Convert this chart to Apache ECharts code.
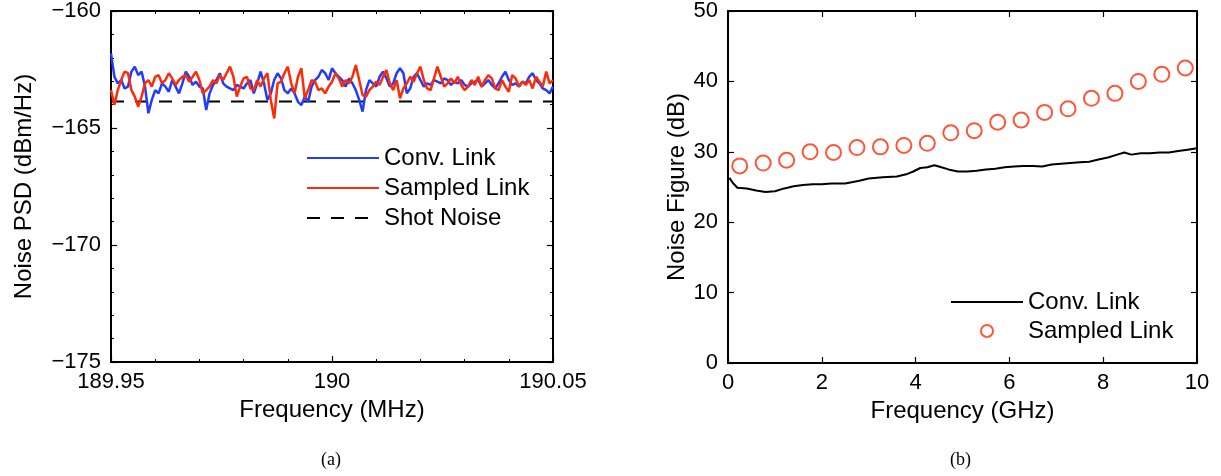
<!DOCTYPE html>
<html>
<head>
<meta charset="utf-8">
<script src="https://cdn.jsdelivr.net/npm/echarts@6/dist/echarts.min.js"></script>
<style>
  html, body { margin: 0; padding: 0; background: #ffffff; }
  #chart { width: 1221px; height: 476px; }
</style>
</head>
<body>
<div id="chart"></div>
<script>
// ---- Panel (a): noise PSD near 190 MHz (dBm/Hz) ----
const psdFreqStart = 189.95;   // MHz
const psdFreqStop = 190.05;    // MHz
const psdConvLink = [
  -161.81, -162.81, -163.09, -162.95, -163.31, -163.23, -162.59, -162.38, -162.74, -162.59,
  -163.23, -164.37, -163.80, -163.38, -163.52, -163.09, -163.23, -163.45, -162.95, -163.23,
  -163.52, -163.09, -162.59, -162.81, -163.16, -163.02, -163.23, -163.31, -164.23, -163.52,
  -163.16, -162.95, -162.66, -163.09, -163.23, -163.31, -163.38, -163.16, -163.23, -163.31,
  -163.09, -162.95, -163.52, -163.09, -162.59, -163.09, -163.80, -163.52, -162.95, -162.66,
  -162.88, -163.38, -163.52, -163.31, -163.52, -163.88, -164.02, -163.66, -163.88, -163.23,
  -162.95, -162.81, -162.52, -162.66, -162.95, -162.45, -162.66, -162.81, -162.95, -163.23,
  -162.88, -163.09, -163.38, -163.80, -164.30, -163.38, -162.95, -163.09, -163.23, -162.81,
  -162.59, -162.88, -163.23, -163.09, -162.66, -162.45, -162.66, -163.52, -163.31, -162.81,
  -162.66, -162.95, -163.23, -163.09, -163.16, -162.95, -163.02, -163.09, -162.88, -162.95,
  -163.16, -163.02, -163.09, -162.95, -163.16, -163.23, -163.09, -163.02, -162.95, -163.23,
  -163.09, -162.95, -163.16, -163.31, -163.09, -162.81, -162.59, -162.95, -163.16, -163.09,
  -163.23, -163.02, -163.09, -162.81, -162.66, -162.95, -163.09, -163.31, -163.38, -163.52,
  -163.23
];
const psdSampledLink = [
  -163.38, -164.02, -163.38, -162.95, -162.59, -162.66, -163.38, -163.66, -164.09, -163.66,
  -163.09, -162.95, -163.23, -162.81, -162.74, -163.09, -162.95, -162.66, -162.88, -163.16,
  -162.95, -162.81, -162.74, -163.02, -162.81, -162.59, -162.95, -163.52, -163.38, -163.23,
  -162.95, -163.09, -162.74, -162.95, -162.66, -162.38, -162.81, -163.66, -163.23, -162.88,
  -162.81, -163.31, -163.38, -162.95, -163.23, -162.88, -162.66, -163.80, -164.59, -163.09,
  -163.02, -162.66, -162.38, -163.09, -163.52, -162.81, -162.45, -163.73, -163.38, -162.95,
  -163.02, -163.38, -163.31, -163.52, -163.23, -163.02, -162.66, -162.88, -163.23, -162.95,
  -163.09, -162.81, -162.31, -162.95, -163.59, -163.66, -163.38, -163.23, -163.02, -163.16,
  -162.81, -162.52, -163.09, -163.38, -162.95, -163.73, -163.31, -163.09, -162.81, -163.02,
  -162.66, -162.38, -162.95, -163.31, -163.38, -162.88, -162.38, -162.81, -163.23, -163.09,
  -162.88, -163.09, -162.81, -163.16, -163.38, -163.23, -162.95, -163.16, -162.81, -163.23,
  -162.95, -162.74, -162.88, -163.31, -163.38, -162.95, -163.23, -163.45, -162.74, -162.88,
  -163.23, -163.02, -163.16, -162.95, -163.31, -162.81, -163.02, -163.23, -162.59, -163.09,
  -162.95
];
const shotNoiseLevel = -163.87;

// ---- Panel (b): noise figure versus frequency ----
const nfConvFreq = [
  0.03, 0.1, 0.2, 0.4, 0.6, 0.8, 1.0, 1.2, 1.4, 1.6, 1.8, 2.0, 2.2, 2.5, 2.8, 3.0, 3.3, 3.6,
  3.8, 3.95, 4.1, 4.25, 4.4, 4.55, 4.7, 4.9, 5.1, 5.3, 5.5, 5.7, 5.9, 6.1, 6.3, 6.5, 6.7,
  6.9, 7.1, 7.3, 7.5, 7.7, 7.9, 8.1, 8.3, 8.45, 8.6, 8.8, 9.0, 9.2, 9.4, 9.6, 9.8, 10.0
];
const nfConvLink = [
  26.3, 25.6, 24.9, 24.8, 24.5, 24.3, 24.4, 24.8, 25.1, 25.3, 25.4, 25.4, 25.5, 25.5, 25.9,
  26.2, 26.4, 26.5, 26.8, 27.2, 27.7, 27.8, 28.1, 27.8, 27.5, 27.2, 27.2, 27.3, 27.5, 27.6,
  27.8, 27.9, 28.0, 28.0, 27.9, 28.2, 28.3, 28.4, 28.5, 28.6, 28.9, 29.2, 29.6, 29.9, 29.6,
  29.8, 29.8, 29.9, 29.9, 30.1, 30.3, 30.5
];
const nfSampledFreq = [
  0.25, 0.75, 1.25, 1.75, 2.25, 2.75, 3.25, 3.75, 4.25, 4.75,
  5.25, 5.75, 6.25, 6.75, 7.25, 7.75, 8.25, 8.75, 9.25, 9.75
];
const nfSampledLink = [
  28.0, 28.4, 28.8, 30.0, 29.9, 30.6, 30.7, 30.9, 31.2, 32.7,
  33.0, 34.2, 34.5, 35.6, 36.1, 37.6, 38.3, 40.0, 41.0, 41.9
];

// ---- build series data ----
const psdStep = (psdFreqStop - psdFreqStart) / (psdConvLink.length - 1);
const convPairs = psdConvLink.map((v, i) => [psdFreqStart + i * psdStep, v]);
const sampledPairs = psdSampledLink.map((v, i) => [psdFreqStart + i * psdStep, v]);
const shotPairs = [[psdFreqStart, shotNoiseLevel], [psdFreqStop, shotNoiseLevel]];
const nfConvPairs = nfConvFreq.map((f, i) => [f, nfConvLink[i]]);
const nfSampledPairs = nfSampledFreq.map((f, i) => [f, nfSampledLink[i]]);

const FONT = "'Liberation Sans', Arial, Helvetica, sans-serif";
const BLUE = '#1f3cff';
const RED = '#ff2a08';
const minus = s => String(s).replace('-', '\u2212');

const axisLine = { show: true, onZero: false, lineStyle: { color: '#000', width: 2 } };
const tickIn = { show: true, inside: true, length: 6, lineStyle: { color: '#000', width: 1.2 } };
const minorIn = { show: true, splitNumber: 5, length: 3, lineStyle: { color: '#000', width: 1 } };
const labelStyle = { color: '#000', fontSize: 22, fontFamily: FONT };
const nameStyle = { color: '#000', fontSize: 24, fontFamily: FONT };
const legendText = { color: '#000', fontSize: 24, fontFamily: FONT };
const hideMarker = { opacity: 0 };

function mirrorX(grid, min, max, interval, minor) {
  return {
    type: 'value', gridIndex: grid, position: 'top', min, max, interval,
    axisLine, axisTick: tickIn, axisLabel: { show: false }, splitLine: { show: false },
    minorTick: minor ? minorIn : { show: false }
  };
}
function mirrorY(grid, min, max, interval, minor) {
  return {
    type: 'value', gridIndex: grid, position: 'right', min, max, interval,
    axisLine, axisTick: tickIn, axisLabel: { show: false }, splitLine: { show: false },
    minorTick: minor ? minorIn : { show: false }
  };
}

const chart = echarts.init(document.getElementById('chart'), null, { renderer: 'canvas' });

chart.setOption({
  backgroundColor: '#ffffff',
  animation: false,
  textStyle: { fontFamily: FONT },
  grid: [
    { left: 111, top: 11, width: 442, height: 351 },
    { left: 728, top: 11, width: 469, height: 352 }
  ],
  xAxis: [
    {
      type: 'value', gridIndex: 0, position: 'bottom', min: psdFreqStart, max: psdFreqStop, interval: 0.05,
      name: 'Frequency (MHz)', nameLocation: 'middle', nameGap: 36, nameTextStyle: nameStyle,
      axisLine, axisTick: tickIn, splitLine: { show: false }, minorTick: minorIn,
      axisLabel: Object.assign({ margin: 9, formatter: v => String(parseFloat(v.toFixed(2))) }, labelStyle)
    },
    mirrorX(0, psdFreqStart, psdFreqStop, 0.05, true),
    {
      type: 'value', gridIndex: 1, position: 'bottom', min: 0, max: 10, interval: 2,
      name: 'Frequency (GHz)', nameLocation: 'middle', nameGap: 36, nameTextStyle: nameStyle,
      axisLine, axisTick: tickIn, splitLine: { show: false },
      axisLabel: Object.assign({ margin: 9 }, labelStyle)
    },
    mirrorX(1, 0, 10, 2, false)
  ],
  yAxis: [
    {
      type: 'value', gridIndex: 0, position: 'left', min: -175, max: -160, interval: 5,
      name: 'Noise PSD (dBm/Hz)', nameLocation: 'middle', nameGap: 75, nameTextStyle: nameStyle,
      axisLine, axisTick: tickIn, splitLine: { show: false }, minorTick: minorIn,
      axisLabel: Object.assign({ margin: 10, formatter: v => minus(v) }, labelStyle)
    },
    mirrorY(0, -175, -160, 5, true),
    {
      type: 'value', gridIndex: 1, position: 'left', min: 0, max: 50, interval: 10,
      name: 'Noise Figure (dB)', nameLocation: 'middle', nameGap: 36, nameTextStyle: nameStyle,
      axisLine, axisTick: tickIn, splitLine: { show: false },
      axisLabel: Object.assign({ margin: 10 }, labelStyle)
    },
    mirrorY(1, 0, 50, 10, false)
  ],
  legend: [
    {
      orient: 'vertical', left: 301, top: 141, itemWidth: 72, itemHeight: 26, itemGap: 6,
      data: [
        { name: 'Conv. Link', itemStyle: hideMarker },
        { name: 'Sampled Link', itemStyle: hideMarker },
        { name: 'Shot Noise', itemStyle: hideMarker }
      ],
      textStyle: legendText,
      selectedMode: false
    },
    {
      orient: 'vertical', left: 945, top: 284, itemWidth: 72, itemHeight: 12, itemGap: 3,
      data: [
        { name: 'Conv. Link ', itemStyle: hideMarker },
        { name: 'Sampled Link ' }
      ],
      textStyle: Object.assign({ lineHeight: 26 }, legendText),
      selectedMode: false
    }
  ],
  series: [
    {
      name: 'Conv. Link', type: 'line', xAxisIndex: 0, yAxisIndex: 0, data: convPairs,
      symbol: 'none', lineStyle: { color: BLUE, width: 2.5 }, itemStyle: { color: BLUE }, z: 3
    },
    {
      name: 'Sampled Link', type: 'line', xAxisIndex: 0, yAxisIndex: 0, data: sampledPairs,
      symbol: 'none', lineStyle: { color: RED, width: 2.5 }, itemStyle: { color: RED }, z: 4
    },
    {
      name: 'Shot Noise', type: 'line', xAxisIndex: 0, yAxisIndex: 0, data: shotPairs,
      symbol: 'none', lineStyle: { color: '#000', width: 2, type: [13, 11] }, itemStyle: { color: '#000' }, z: 2
    },
    {
      name: 'Conv. Link ', type: 'line', xAxisIndex: 2, yAxisIndex: 2, data: nfConvPairs,
      symbol: 'none', lineStyle: { color: '#000', width: 2 }, itemStyle: { color: '#000' }
    },
    {
      name: 'Sampled Link ', type: 'scatter', xAxisIndex: 2, yAxisIndex: 2, data: nfSampledPairs,
      symbol: 'emptyCircle', symbolSize: 15,
      itemStyle: { color: RED, borderColor: RED, borderWidth: 2.4 }
    }
  ],
  graphic: [
    { type: 'text', left: 321, top: 451, style: { text: '(a)', font: "18px 'Liberation Serif', 'Times New Roman', serif", fill: '#000' } },
    { type: 'text', left: 950, top: 451, style: { text: '(b)', font: "18px 'Liberation Serif', 'Times New Roman', serif", fill: '#000' } }
  ]
});
</script>
</body>
</html>
